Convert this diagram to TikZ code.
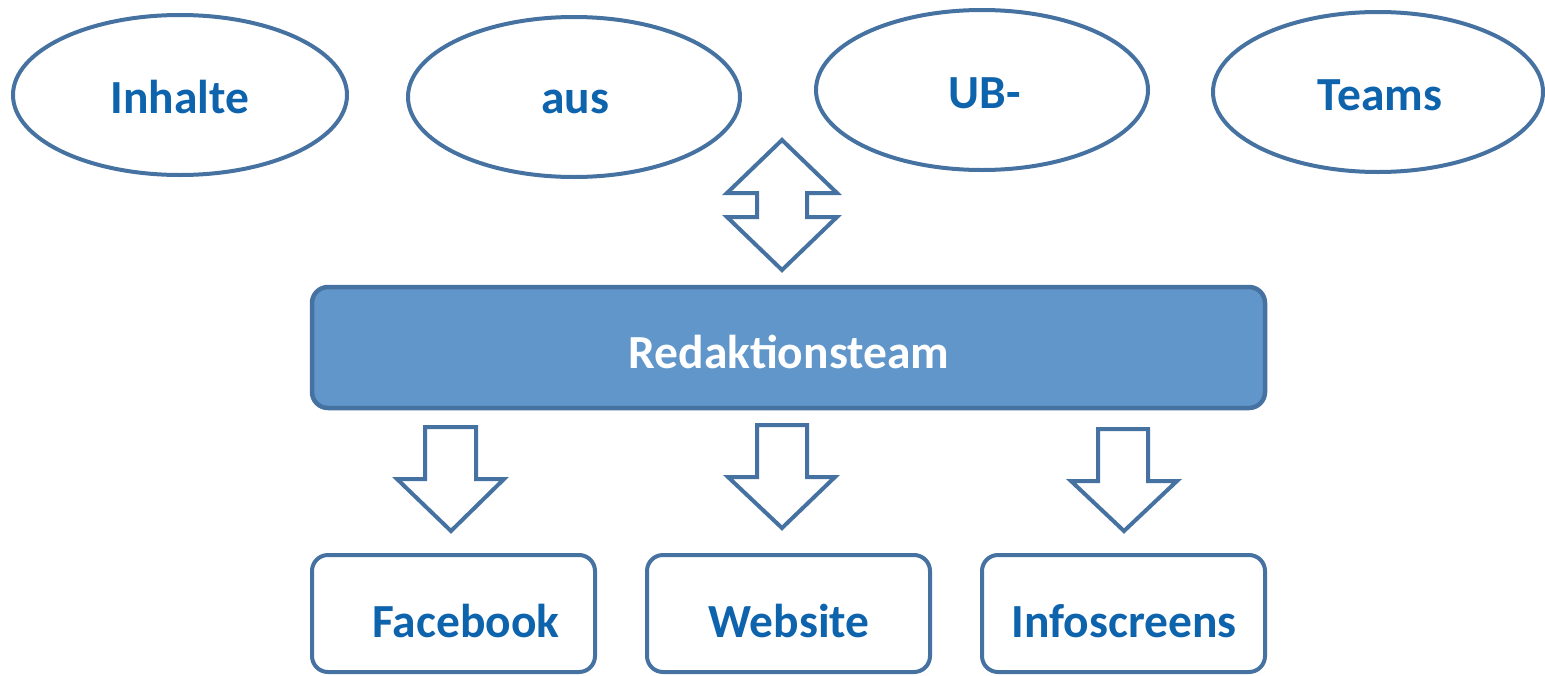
\documentclass[tikz,border=0pt]{standalone}
\usepackage{fontspec}
\setmainfont{Carlito}
\usetikzlibrary{shapes.geometric}
\definecolor{edge}{HTML}{4672A2}
\definecolor{txt}{HTML}{0E63AD}
\definecolor{boxfill}{HTML}{6196CA}
\tikzset{
  oval/.style={ellipse, draw=edge, line width=4pt, fill=white, inner sep=0pt},
  lbl/.style={font=\fontsize{47.5}{50}\selectfont\bfseries, text=txt},
  outbox/.style={draw=edge, line width=4pt, rounded corners=16pt, fill=white},
  blockarrow/.style={draw=edge, line width=4pt, fill=white, line join=miter},
}
\begin{document}
\begin{tikzpicture}[x=1pt, y=-1pt]
\useasboundingbox (0,0) rectangle (1545,675);
% top ellipses
\node[oval, minimum width=334pt, minimum height=160pt] (e1) at (180,95) {};
\node[lbl] (t1) at (180,97) {Inhalte};
\node[oval, minimum width=332pt, minimum height=160pt] (e2) at (574,97) {};
\node[lbl] (t2) at (575,102) {aus};
\node[oval, minimum width=332pt, minimum height=160pt] (e3) at (982,90) {};
\node[lbl] (t3) at (985,93) {UB-};
\node[oval, minimum width=330pt, minimum height=160pt] (e4) at (1378,92) {};
\node[lbl] (t4) at (1380,95) {Teams};
% double arrow
\draw[blockarrow] (782,140) -- (837,193) -- (807,193) -- (807,217) -- (837,217)
  -- (782,270) -- (727,217) -- (757,217) -- (757,193) -- (727,193) -- cycle;
% central box
\draw[draw=edge, line width=4.5pt, fill=boxfill, rounded corners=16pt] (312,287) rectangle (1265,408);
\node[font=\fontsize{47.5}{50}\selectfont\bfseries, text=white] (red) at (789,352) {Redaktionsteam};
% down arrows
\draw[blockarrow] (425,427) -- (476,427) -- (476,479) -- (504,479) -- (451,531)
  -- (397,479) -- (425,479) -- cycle;
\draw[blockarrow] (757,425) -- (807,425) -- (807,477) -- (835,477) -- (782,528)
  -- (728,477) -- (757,477) -- cycle;
\draw[blockarrow] (1098,429) -- (1148,429) -- (1148,481) -- (1177,481) -- (1124,531)
  -- (1071,481) -- (1098,481) -- cycle;
% bottom boxes
\draw[outbox] (312,555) rectangle (595,672);
\node[lbl] (fb) at (466,621) {Facebook};
\draw[outbox] (647,555) rectangle (930,672);
\node[lbl] (web) at (789,621) {Website};
\draw[outbox] (982,555) rectangle (1265,672);
\node[lbl] (info) at (1124,621) {Infoscreens};
\end{tikzpicture}
\end{document}
